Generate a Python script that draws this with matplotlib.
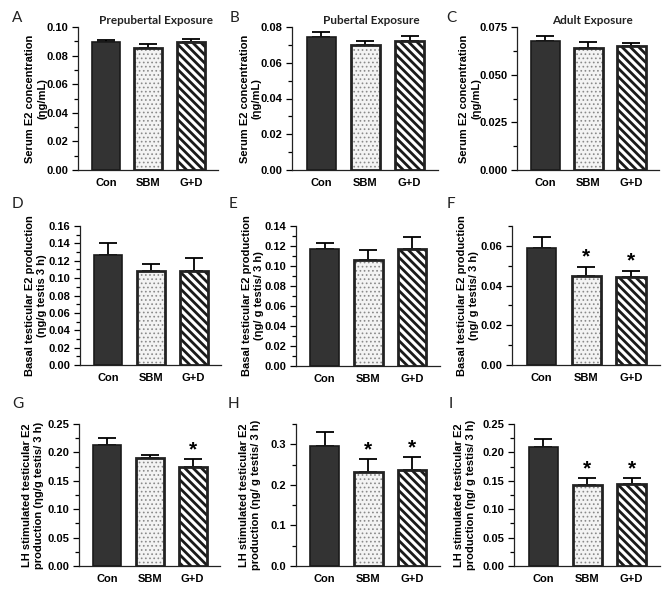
import matplotlib
matplotlib.use("Agg")
import matplotlib.pyplot as plt
from matplotlib.ticker import MultipleLocator, AutoMinorLocator, FormatStrFormatter
from matplotlib.font_manager import FontProperties
import numpy as np

groups = ["Con", "SBM", "G+D"]

# Panel data: means, upper error, significance
a_mean = [0.0893, 0.0853, 0.0893]; a_err = [0.0018, 0.0030, 0.0023]; a_sig = [False, False, False]
b_mean = [0.0744, 0.0698, 0.0722]; b_err = [0.0026, 0.0022, 0.0028]; b_sig = [False, False, False]
c_mean = [0.0675, 0.0640, 0.0648]; c_err = [0.0029, 0.0031, 0.0018]; c_sig = [False, False, False]
d_mean = [0.127, 0.1087, 0.1085]; d_err = [0.0135, 0.0080, 0.0148]; d_sig = [False, False, False]
e_mean = [0.1167, 0.1063, 0.1173]; e_err = [0.0066, 0.0100, 0.0117]; e_sig = [False, False, False]
f_mean = [0.0588, 0.0450, 0.0442]; f_err = [0.0055, 0.0045, 0.0033]; f_sig = [False, True, True]
g_mean = [0.2134, 0.1910, 0.1740]; g_err = [0.0118, 0.0048, 0.0140]; g_sig = [False, False, True]
h_mean = [0.2959, 0.2312, 0.2370]; h_err = [0.0356, 0.0315, 0.0307]; h_sig = [False, True, True]
i_mean = [0.2090, 0.1434, 0.1446]; i_err = [0.0152, 0.0117, 0.0105]; i_sig = [False, True, True]

titles = ["Prepubertal Exposure", "Pubertal Exposure", "Adult Exposure"]
letters = ["A", "B", "C", "D", "E", "F", "G", "H", "I"]

serum_label = "Serum E2 concentration\n(ηg/mL)"
ylabels = [
    serum_label, serum_label, serum_label,
    "Basal testicular E2 production\n(ηg/g testis 3 h)",
    "Basal testicular E2 production\n(ηg/ g testis/ 3 h)",
    "Basal testicular E2 production\n(ηg/ g testis/ 3 h)",
    "LH stimulated testicular E2\nproduction (ηg/g testis/ 3 h)",
    "LH stimulated testicular E2\nproduction (ηg/ g testis/ 3 h)",
    "LH stimulated testicular E2\nproduction (ηg/ g testis/ 3 h)",
]

# y axis settings: (ymax, major step, format)
yset = [
    (0.10, 0.02, "%.2f"), (0.08, 0.02, "%.2f"), (0.075, 0.025, "%.3f"),
    (0.16, 0.02, "%.2f"), (0.14, 0.02, "%.2f"), (0.07, 0.02, "%.2f"),
    (0.25, 0.05, "%.2f"), (0.35, 0.1, "%.1f"), (0.25, 0.05, "%.2f"),
]

means = [a_mean, b_mean, c_mean, d_mean, e_mean, f_mean, g_mean, h_mean, i_mean]
errs = [a_err, b_err, c_err, d_err, e_err, f_err, g_err, h_err, i_err]
sigs = [a_sig, b_sig, c_sig, d_sig, e_sig, f_sig, g_sig, h_sig, i_sig]

W, H = 668, 598
fig = plt.figure(figsize=(W / 100, H / 100), dpi=100)

# axes rectangles in pixels: left, right, top, bottom
rects = [
    (78, 218, 27, 170), (292, 438, 27, 170), (517, 659, 27, 170),
    (80, 221, 226, 365), (296, 440, 226, 366), (512, 660, 226, 365),
    (79, 220, 424, 566), (296, 440, 424, 566), (514, 660, 424, 566),
]
label_right = [47, 262, 481, 47, 264, 479, 44, 261, 476]
letter_pos = [(12, 11), (230, 11), (446, 11), (12, 197), (229, 197), (447, 197),
              (12, 397), (228, 397), (449, 397)]
title_pos = [(156, 20), (371, 20), (592, 20)]

tickfont = dict(family="Liberation Sans", weight="bold", size=8)
x = np.arange(3)
bw = 0.66
BS = chr(92)


def hatched_bar(ax, xpos, h, face, hcolor, hatch, hlw):
    plt.rcParams['hatch.linewidth'] = hlw
    bars = ax.bar(xpos, h, bw, color=face, edgecolor=hcolor, linewidth=0,
                  hatch=hatch, zorder=2)
    for p in bars:
        if hasattr(p, "set_hatch_linewidth"):
            p.set_hatch_linewidth(hlw)
    ax.bar(xpos, h, bw, color="none", edgecolor="#222222", linewidth=2.0, zorder=3)


for k in range(9):
    l, r, t, b = rects[k]
    ax = fig.add_axes([l / W, 1 - b / H, (r - l) / W, (b - t) / H])
    m = means[k]
    e = errs[k]
    # error bars (upper only)
    ax.errorbar(x, m, yerr=[np.zeros(3), e], fmt="none", ecolor="black",
                elinewidth=1.3, capsize=6.5, capthick=1.3, zorder=1)
    # Con: dark
    ax.bar(x[0], m[0], bw, color="#333333", edgecolor="#1a1a1a", linewidth=1.2, zorder=2)
    # SBM: dotted
    hatched_bar(ax, x[1], m[1], "#f3f3f3", "#8a8a8a", "....", 0.7)
    # G+D: stripes
    hatched_bar(ax, x[2], m[2], "white", "#1a1a1a", BS * 4, 2.0)

    for j in range(3):
        if sigs[k][j]:
            ax.text(x[j], m[j] + e[j], "*", ha="center", va="bottom",
                    fontsize=15, fontweight="bold", family="Liberation Sans")

    ymax, step, fmt = yset[k]
    ax.set_ylim(0, ymax)
    ax.set_xlim(-0.66, 2.64)
    ax.yaxis.set_major_locator(MultipleLocator(step))
    ax.yaxis.set_minor_locator(AutoMinorLocator(2))
    ax.yaxis.set_major_formatter(FormatStrFormatter(fmt))
    ax.set_xticks(x)
    ax.set_xticklabels(groups)
    for lab in ax.get_xticklabels() + ax.get_yticklabels():
        lab.set_fontproperties(FontProperties(**tickfont))
    ax.tick_params(axis="x", length=0, pad=6)
    ax.tick_params(axis="y", which="major", length=4, width=0.9, direction="out", pad=3)
    ax.tick_params(axis="y", which="minor", length=3, width=0.9, direction="out")
    for s in ["top", "right"]:
        ax.spines[s].set_visible(False)
    for s in ["left", "bottom"]:
        ax.spines[s].set_linewidth(0.9)
        ax.spines[s].set_color("#222222")
    ax.set_ylabel(ylabels[k], family="Liberation Sans", fontweight="bold",
                  fontsize=8, linespacing=1.3)
    ax.yaxis.set_label_coords((label_right[k] - l) / (r - l), 0.5)

    lx, ly = letter_pos[k]
    fig.text(lx / W, 1 - ly / H, letters[k], family="Lato", fontsize=11,
             ha="left", va="top", color="#222222")

for k in range(3):
    tx, ty = title_pos[k]
    fig.text(tx / W, 1 - ty / H, titles[k], family="Lato", fontweight="bold",
             fontsize=8.5, ha="center", va="center", color="#222222")

fig.savefig("out.png", dpi=100)
